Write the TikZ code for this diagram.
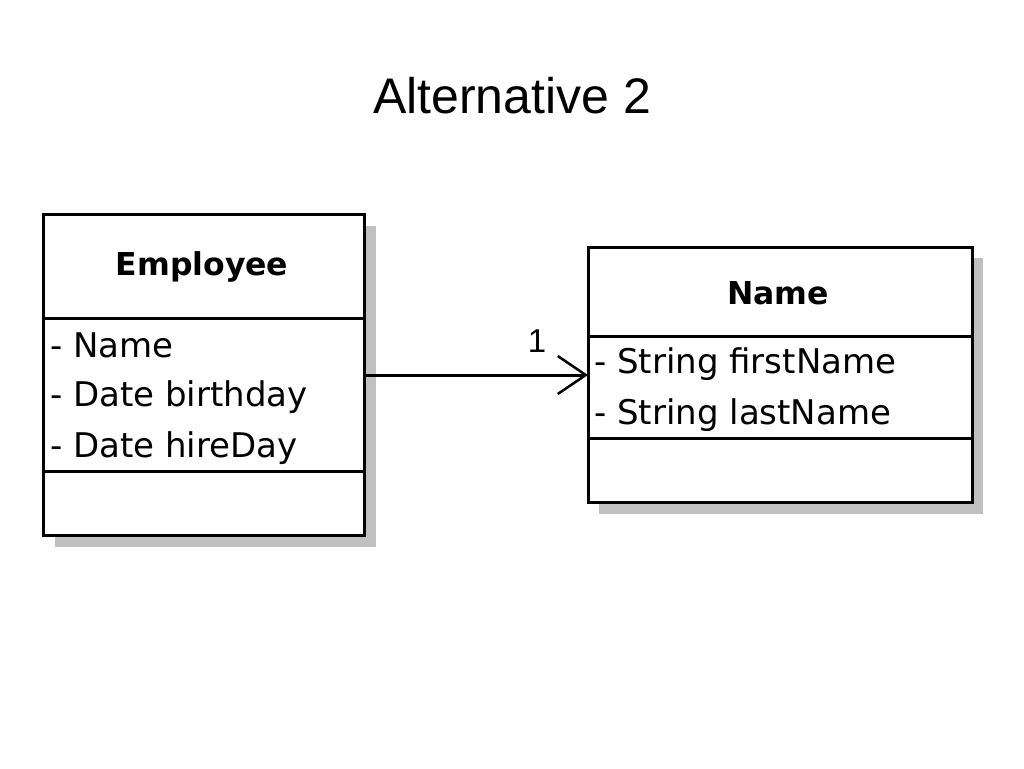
\documentclass[tikz,border=0pt]{standalone}
\usepackage{fontspec}
\setmainfont{Liberation Sans}
\newfontfamily\boxfont{DejaVu Sans}
\usetikzlibrary{arrows.meta}
\definecolor{shadowgray}{HTML}{C0C0C0}
\tikzset{
  compart/.style={draw=black, line width=3pt, fill=white, inner sep=0pt, outer sep=0pt},
  attrtext/.style={anchor=west, inner sep=0pt, font=\boxfont\fontsize{34}{36}\selectfont},
  classtitle/.style={inner sep=0pt, font=\boxfont\bfseries\fontsize{31.5}{36}\selectfont},
  assoc/.style={line width=3pt, -{Straight Barb[length=28pt, width=38pt, line width=2.5pt]}},
}
\begin{document}
\begin{tikzpicture}[x=1pt, y=-1pt]
\useasboundingbox (0,0) rectangle (1024,768);
\fill[white] (0,0) rectangle (1024,768);
% title
\node[font=\fontsize{50}{56}\selectfont, inner sep=0pt] (title) at (512,96) {Alternative 2};

% shadows
\fill[shadowgray] (55,226) rectangle (376,547);
\fill[shadowgray] (599,258) rectangle (983,514);

% Employee class
\node[compart, minimum width=321pt, minimum height=104pt] (empT) at (203.5,266) {};
\node[compart, minimum width=321pt, minimum height=153pt] (empA) at (203.5,394.5) {};
\node[compart, minimum width=321pt, minimum height=64pt] (empO) at (203.5,503) {};
\node[classtitle] (empName) at (202,267) {Employee};
\node[attrtext] (ea1) at (50,345) {- Name};
\node[attrtext] (ea2) at (50,397) {- Date birthday};
\node[attrtext] (ea3) at (50,448) {- Date hireDay};

% Name class
\node[compart, minimum width=384pt, minimum height=89pt] (nmT) at (780,291.5) {};
\node[compart, minimum width=384pt, minimum height=102pt] (nmA) at (780,387) {};
\node[compart, minimum width=384pt, minimum height=64pt] (nmO) at (780,470) {};
\node[classtitle] (nmName) at (778,293) {Name};
\node[attrtext] (na1) at (594,364) {- String firstName};
\node[attrtext] (na2) at (594,415) {- String lastName};

% association
\coordinate (ay) at (0,375);
\draw[assoc] (empA.east |- ay) -- (nmA.west |- ay);
\node[font=\fontsize{33}{36}\selectfont, inner sep=0pt] (mult) at (537,341) {1};
\end{tikzpicture}
\end{document}
